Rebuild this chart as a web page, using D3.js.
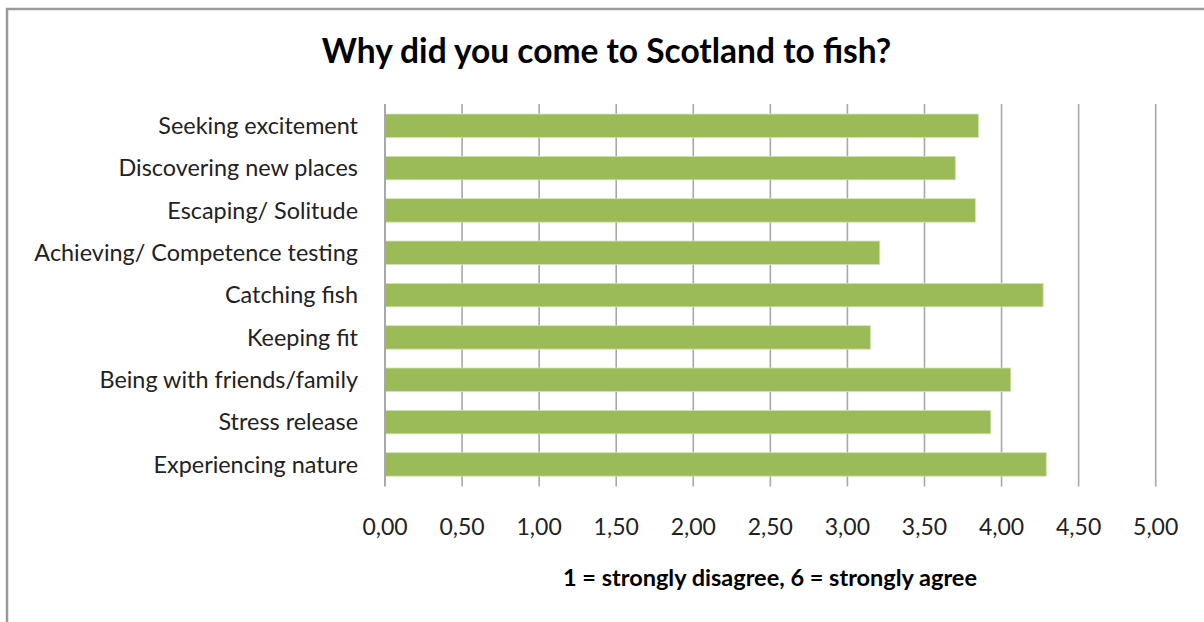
<!DOCTYPE html>
<html>
<head>
<meta charset="utf-8">
<script src="https://cdn.jsdelivr.net/npm/d3@7"></script>
<style>
  html, body { margin: 0; padding: 0; background: #ffffff; }
  svg { display: block; }
  text { font-family: Lato, "Open Sans", sans-serif; fill: #222; }
</style>
</head>
<body>
<svg id="chart" width="1204" height="622"></svg>
<script>
// Survey: mean agreement score for each motive (1 = strongly disagree, 6 = strongly agree)
const categories = [
  "Seeking excitement",
  "Discovering new places",
  "Escaping/ Solitude",
  "Achieving/ Competence testing",
  "Catching fish",
  "Keeping fit",
  "Being with friends/family",
  "Stress release",
  "Experiencing nature"
];
const scores = [3.85, 3.70, 3.83, 3.21, 4.27, 3.15, 4.06, 3.93, 4.29];
const tickValues = [0, 0.5, 1, 1.5, 2, 2.5, 3, 3.5, 4, 4.5, 5];
const titleText = "Why did you come to Scotland to fish?";
const axisTitleText = "1 = strongly disagree, 6 = strongly agree";

const svg = d3.select("#chart");
const W = 1204, H = 622;

const plot = { left: 385, right: 1155.7, top: 104.6, bottom: 485.6 };

const x = d3.scaleLinear().domain([0, 5]).range([plot.left, plot.right]);
const y = d3.scaleBand()
  .domain(categories)
  .range([plot.top, plot.bottom])
  .paddingInner(0.445)
  .paddingOuter(0.2225);

// Chart frame
svg.append("path")
  .attr("d", `M7,${H} L7,9 L${W},9`)
  .attr("fill", "none")
  .attr("stroke", "#9a9a9a")
  .attr("stroke-width", 2.5);

// Title
svg.append("text")
  .attr("x", 606.5)
  .attr("y", 62.5)
  .attr("text-anchor", "middle")
  .style("font-weight", "bold")
  .style("font-size", "33.5px")
  .style("fill", "#000")
  .text(titleText);

// Vertical gridlines
svg.append("g")
  .selectAll("line")
  .data(tickValues.filter(d => d > 0))
  .join("line")
  .attr("x1", d => x(d)).attr("x2", d => x(d))
  .attr("y1", plot.top - 0.6).attr("y2", plot.bottom + 0.8)
  .attr("stroke", "#a8a8a8")
  .attr("stroke-width", 1.6);

// Bars
svg.append("g")
  .selectAll("rect")
  .data(categories.map((c, i) => ({ c, v: scores[i] })))
  .join("rect")
  .attr("x", x(0) + 0.5)
  .attr("y", d => y(d.c))
  .attr("width", d => x(d.v) - x(0) - 0.5)
  .attr("height", y.bandwidth())
  .attr("fill", "#9bbb59")
  .attr("stroke", "#d4e3bb")
  .attr("stroke-width", 0.8);

// Category axis line
svg.append("line")
  .attr("x1", x(0)).attr("x2", x(0))
  .attr("y1", plot.top - 0.6).attr("y2", plot.bottom + 0.8)
  .attr("stroke", "#a0a0a0")
  .attr("stroke-width", 1.8);

// Category labels
svg.append("g")
  .selectAll("text")
  .data(categories)
  .join("text")
  .attr("x", 358)
  .attr("y", d => y(d) + y.bandwidth() / 2)
  .attr("dy", "0.35em")
  .attr("text-anchor", "end")
  .style("font-size", "23.4px")
  .text(d => d);

// Value axis tick labels
const fmt = d => d3.format(".2f")(d).replace(".", ",");
svg.append("g")
  .selectAll("text")
  .data(tickValues)
  .join("text")
  .attr("x", d => x(d))
  .attr("y", 527)
  .attr("dy", "0.35em")
  .attr("text-anchor", "middle")
  .style("font-size", "23px")
  .text(fmt);

// Value axis title
svg.append("text")
  .attr("x", 770)
  .attr("y", 578)
  .attr("dy", "0.35em")
  .attr("text-anchor", "middle")
  .style("font-weight", "bold")
  .style("font-size", "23.5px")
  .style("fill", "#000")
  .text(axisTitleText);
</script>
</body>
</html>
